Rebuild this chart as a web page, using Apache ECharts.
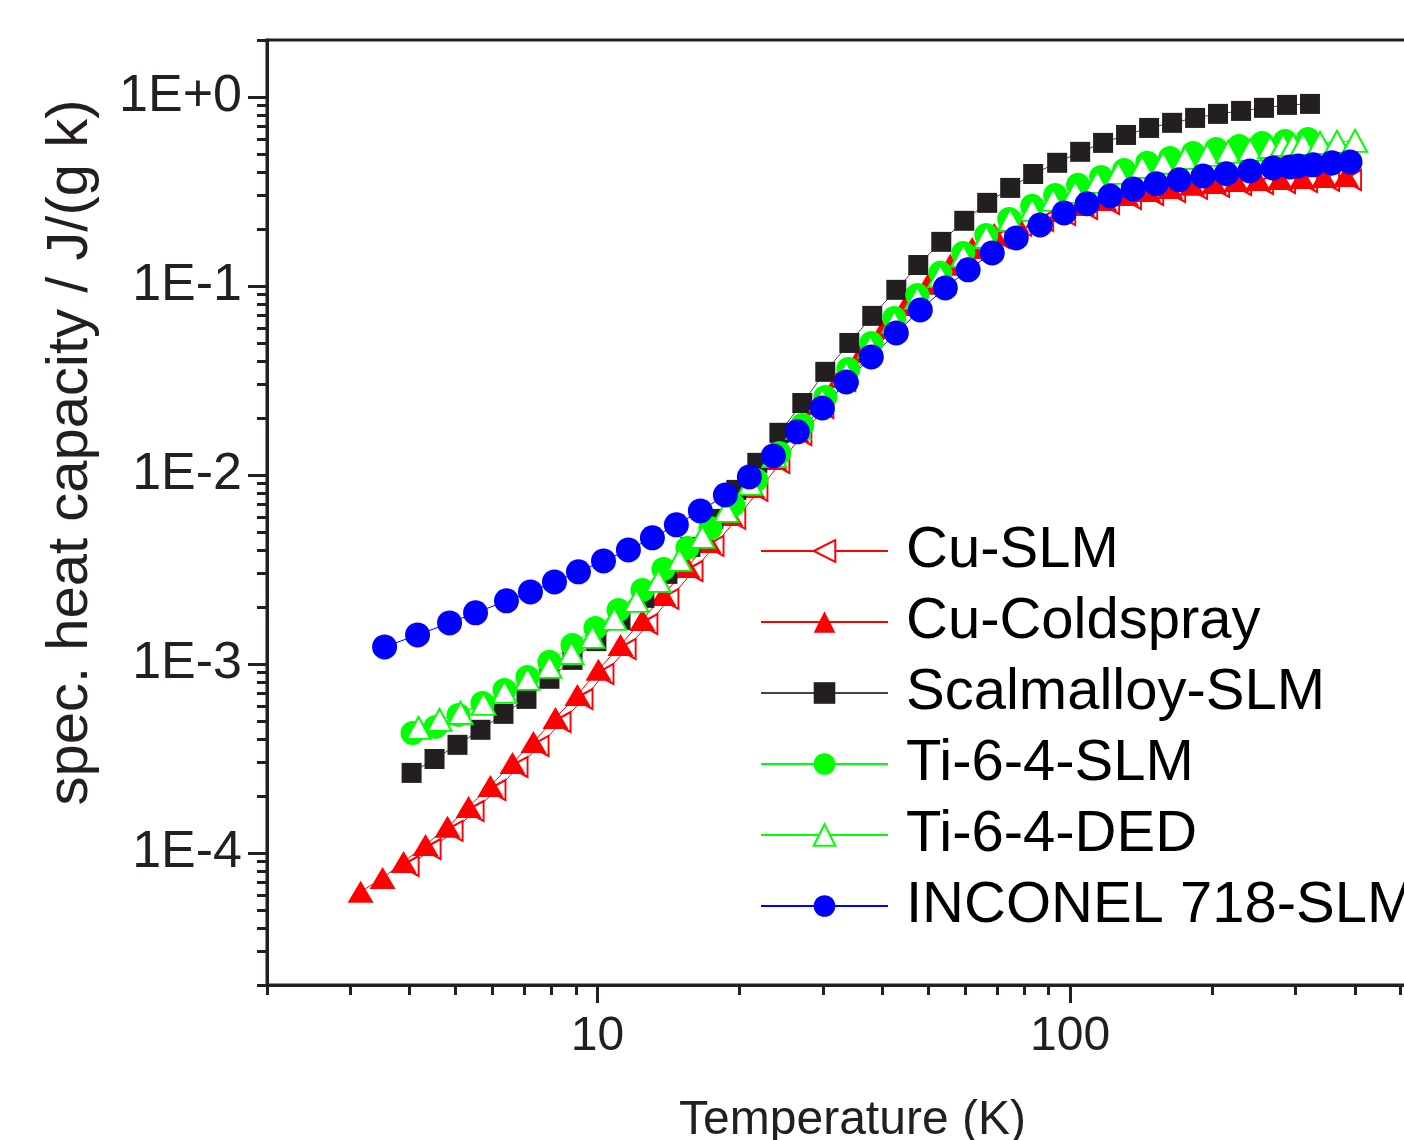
<!DOCTYPE html>
<html>
<head>
<meta charset="utf-8">
<script src="https://cdn.jsdelivr.net/npm/echarts@6/dist/echarts.min.js"></script>
<style>
html,body{margin:0;padding:0;background:#fff;}
#c{width:1404px;height:1140px;}
</style>
</head>
<body>
<div id="c"></div>
<script>
// ---------- data ----------
const seriesNames = ['Cu-SLM','Cu-Coldspray','Scalmalloy-SLM','Ti-6-4-SLM','Ti-6-4-DED','INCONEL 718-SLM'];

const cuSlmT = [4.007,4.459,4.963,5.498,6.116,6.810,7.542,8.397,9.345,10.35,11.53,12.82,14.20,15.97,17.69,19.67,21.91,24.38,27.14,30.21,33.62,37.43,41.66,46.36,51.60,57.44,63.92,71.15,79.19,88.13,98.11,109.2,121.5,135.2,150.6,167.6,186.5,207.6,231.1,257.2,286.3,318.7,354.7,394.8];
const cuSlmC = [8.53e-5,1.049e-4,1.307e-4,1.667e-4,2.153e-4,2.850e-4,3.681e-4,4.93e-4,6.52e-4,8.85e-4,1.200e-3,1.627e-3,2.207e-3,3.10e-3,4.21e-3,5.85e-3,8.23e-3,0.01157,0.01627,0.02261,0.03142,0.04260,0.05707,0.07552,0.0976,0.1230,0.1513,0.1794,0.2077,0.2206,0.2373,0.2554,0.2714,0.2885,0.3029,0.3142,0.3260,0.3340,0.3421,0.3463,0.3506,0.3549,0.3593,0.3636];

const cuColdT = [3.155,3.512,3.890,4.329,4.818,5.338,5.938,6.612,7.322,8.152,9.073,10.05,11.19,12.45,13.79,15.50,17.17,19.10,21.27,23.67,26.35,29.33,32.64,36.34,40.45,45.01,50.10,55.77,62.06,69.08,76.88,85.56,95.25,106.0,118.0,131.3,146.2,162.7,181.1,201.6,224.4,249.7,278.0,309.4,344.4,383.3];
const cuColdC = [6.22e-5,7.37e-5,8.96e-5,1.102e-4,1.373e-4,1.751e-4,2.262e-4,2.994e-4,3.867e-4,5.18e-4,6.85e-4,9.30e-4,1.260e-3,1.709e-3,2.318e-3,3.26e-3,4.42e-3,6.14e-3,8.64e-3,0.01215,0.01709,0.02375,0.03300,0.04475,0.05995,0.07933,0.1025,0.1292,0.1589,0.1884,0.2182,0.2317,0.2493,0.2683,0.2851,0.3030,0.3182,0.3300,0.3424,0.3508,0.3594,0.3638,0.3683,0.3728,0.3774,0.3819];

const scalT = [4.045,4.523,5.058,5.657,6.328,7.078,7.915,8.855,9.95,11.19,12.57,14.06,15.73,17.59,19.67,21.79,24.26,27.13,30.34,34.11,38.14,42.88,47.72,53.38,59.70,66.76,74.67,83.52,93.87,105.0,117.4,131.3,146.9,164.3,183.8,205.5,229.9,257.1,287.6,321.6];
const scalC = [2.65e-4,3.14e-4,3.73e-4,4.48e-4,5.44e-4,6.53e-4,8.34e-4,1.05e-3,1.32e-3,1.709e-3,2.235e-3,2.994e-3,4.16e-3,5.85e-3,8.33e-3,0.01158,0.0167,0.0240,0.0351,0.0499,0.0694,0.0953,0.129,0.171,0.221,0.275,0.330,0.391,0.448,0.512,0.571,0.629,0.685,0.729,0.774,0.813,0.843,0.875,0.907,0.918];

const tiSlmT = [4.064,4.545,5.083,5.712,6.359,7.112,7.915,8.855,9.903,11.08,12.45,13.79,15.50,17.34,19.39,21.69,24.26,27.13,30.34,33.94,37.96,42.46,47.49,53.12,59.41,66.44,74.31,83.12,92.97,103.9,116.3,130.1,145.5,162.7,182.0,203.6,227.7,254.7,284.8,318.5];
const tiSlmC = [4.314e-4,4.642e-4,5.373e-4,6.218e-4,7.286e-4,8.53e-4,1.025e-3,1.260e-3,1.550e-3,1.930e-3,2.463e-3,3.18e-3,4.11e-3,5.24e-3,6.94e-3,9.41e-3,0.01307,0.01839,0.02587,0.03637,0.0499,0.0677,0.0896,0.1172,0.1495,0.1861,0.2262,0.2651,0.3030,0.3424,0.3774,0.4110,0.448,0.4756,0.5056,0.5307,0.5504,0.5710,0.5851,0.5995];

const tiDedT = [4.184,4.634,5.133,5.741,6.359,7.112,7.915,8.81,9.759,10.86,12.09,13.46,14.91,16.67,18.74,21.06,23.67,26.61,29.90,33.61,37.77,42.46,47.49,53.12,59.41,66.44,74.67,83.12,92.05,102.5,114.1,126.4,142.0,157.3,175.1,194.9,215.8,240.2,264.7,282.0,296.1,310.9,337.8,366.8,400.6];
const tiDedC = [4.585e-4,5.055e-4,5.503e-4,6.142e-4,7.11e-4,8.33e-4,9.64e-4,1.143e-3,1.390e-3,1.730e-3,2.154e-3,2.750e-3,3.552e-3,4.70e-3,6.45e-3,8.96e-3,0.0126,0.01773,0.02494,0.03465,0.04755,0.0645,0.0864,0.1129,0.1441,0.1816,0.2235,0.2524,0.2851,0.3144,0.3550,0.3962,0.4263,0.448,0.4756,0.4933,0.5117,0.5243,0.5436,0.5572,0.5572,0.5641,0.5710,0.5780,0.5851];

const incT = [3.546,4.164,4.866,5.523,6.421,7.217,8.112,9.117,10.30,11.63,13.07,14.69,16.51,18.65,20.96,23.56,26.48,29.90,33.61,37.96,42.88,48.2,54.43,60.85,68.42,76.9,86.4,97.1,108.6,121.5,135.9,152.0,170.0,191.0,214.0,240.0,268.5,291.7,303.6,326.4,358.0,390.8];
const incC = [1.23e-3,1.423e-3,1.648e-3,1.862e-3,2.155e-3,2.404e-3,2.716e-3,3.069e-3,3.508e-3,4.01e-3,4.645e-3,5.44e-3,6.45e-3,7.83e-3,9.76e-3,0.0126,0.0169,0.0226,0.0310,0.0421,0.0564,0.0746,0.0976,0.1216,0.1495,0.1795,0.210,0.243,0.272,0.299,0.326,0.347,0.364,0.382,0.392,0.406,0.421,0.426,0.431,0.437,0.448,0.453];

// tick positions / labels
const xMajorTicks = [10, 100];
const xMinorTicks = [2.00001,3,4,5,6,7,8,9,20,30,40,50,60,70,80,90,200,300,400,500];
const yMajorTicks = [1e-4, 1e-3, 1e-2, 1e-1, 1];
const yMinorTicks = [2.00001e-5,3e-5,4e-5,5e-5,6e-5,7e-5,8e-5,9e-5,
  2e-4,3e-4,4e-4,5e-4,6e-4,7e-4,8e-4,9e-4,
  2e-3,3e-3,4e-3,5e-3,6e-3,7e-3,8e-3,9e-3,
  2e-2,3e-2,4e-2,5e-2,6e-2,7e-2,8e-2,9e-2,
  0.2,0.3,0.4,0.5,0.6,0.7,0.8,0.9,1.99999];

// ---------- chart ----------
const FONT = "'Liberation Sans', Arial, sans-serif";
const AX = '#231f20';
function pairs(t, c){ return t.map((v,i)=>[v, c[i]]); }
function expLabel(v){ const e = Math.round(Math.log10(v)); return '1E' + (e >= 0 ? '+' : '-') + Math.abs(e); }

const chart = echarts.init(document.getElementById('c'), null, {renderer:'canvas'});

const baseX = {type:'log', logBase:10, min:2, max:600, gridIndex:0, position:'bottom', splitLine:{show:false}, minorTick:{show:false}};
const baseY = {type:'log', logBase:10, min:2e-5, max:2, gridIndex:0, position:'left', splitLine:{show:false}, minorTick:{show:false}};

const option = {
  animation:false,
  backgroundColor:'#fff',
  grid:{left:267, top:40, right:-34, bottom:155, containLabel:false, outerBoundsMode:'none',
    show:true, borderWidth:3, borderColor:AX, backgroundColor:'transparent'},
  xAxis:[
    Object.assign({}, baseX, {
      name:'Temperature (K)', nameLocation:'middle', nameGap:112,
      nameTextStyle:{fontSize:48, fontFamily:FONT, color:AX},
      axisLine:{show:true, lineStyle:{color:AX, width:3}},
      axisTick:{show:true, customValues:xMajorTicks, length:18, lineStyle:{color:AX, width:3}},
      axisLabel:{show:true, customValues:xMajorTicks, margin:28, fontSize:48, fontFamily:FONT, color:AX, formatter:(v)=>String(Math.round(v))}
    }),
    Object.assign({}, baseX, {
      axisLine:{show:false},
      axisTick:{show:true, customValues:xMinorTicks, length:10, lineStyle:{color:AX, width:3}},
      axisLabel:{show:false}
    })
  ],
  yAxis:[
    Object.assign({}, baseY, {
      name:'spec. heat capacity / J/(g k)', nameLocation:'middle', nameGap:167,
      nameTextStyle:{fontSize:58, fontFamily:FONT, color:AX, padding:[0,0,0,120]},
      axisLine:{show:true, lineStyle:{color:AX, width:3}},
      axisTick:{show:true, customValues:yMajorTicks, length:19, lineStyle:{color:AX, width:3}},
      axisLabel:{show:true, customValues:yMajorTicks, margin:25, fontSize:52, fontFamily:FONT, color:AX, formatter:expLabel}
    }),
    Object.assign({}, baseY, {
      axisLine:{show:false},
      axisTick:{show:true, customValues:yMinorTicks, length:10, lineStyle:{color:AX, width:3}},
      axisLabel:{show:false}
    })
  ],
  legend:{
    orient:'vertical', left:755, top:516, itemWidth:127, itemHeight:27, itemGap:11,
    selectedMode:false, data:seriesNames,
    textStyle:{fontSize:58, lineHeight:60, fontFamily:FONT, color:'#000', padding:[0,0,0,13]}
  },
  series:[
    {name:seriesNames[0], type:'line', data:pairs(cuSlmT, cuSlmC), symbol:'emptyTriangle', symbolRotate:90, symbolSize:[20,18],
      itemStyle:{color:'#ff0000'}, lineStyle:{color:'#ff0000', width:1}},
    {name:seriesNames[1], type:'line', data:pairs(cuColdT, cuColdC), symbol:'triangle', symbolSize:[26,22],
      itemStyle:{color:'#ff0000'}, lineStyle:{color:'#ff0000', width:1}},
    {name:seriesNames[2], type:'line', data:pairs(scalT, scalC), symbol:'rect', symbolSize:20,
      itemStyle:{color:'#231f20'}, lineStyle:{color:'#444444', width:1}},
    {name:seriesNames[3], type:'line', data:pairs(tiSlmT, tiSlmC), symbol:'circle', symbolSize:24,
      itemStyle:{color:'#00ff00'}, lineStyle:{color:'#00ff00', width:1}},
    {name:seriesNames[4], type:'line', data:pairs(tiDedT, tiDedC), symbol:'emptyTriangle', symbolSize:[24,22],
      itemStyle:{color:'#00ff00'}, lineStyle:{color:'#00ff00', width:1}},
    {name:seriesNames[5], type:'line', data:pairs(incT, incC), symbol:'circle', symbolSize:25,
      itemStyle:{color:'#0000ff'}, lineStyle:{color:'#0000ff', width:1}}
  ]
};
chart.setOption(option);
</script>
</body>
</html>
